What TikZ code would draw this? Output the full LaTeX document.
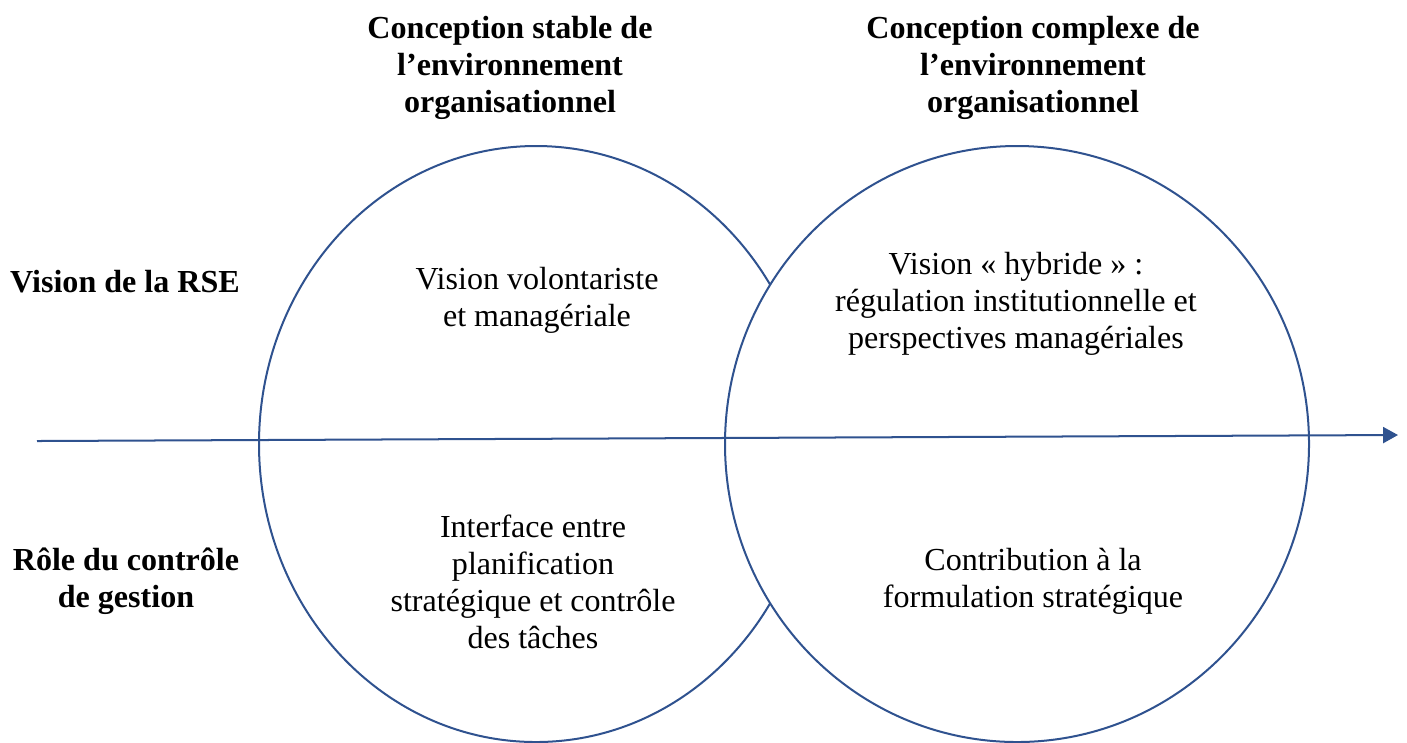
\documentclass[tikz,border=0pt]{standalone}
\usepackage{fontspec}
\setmainfont{Liberation Serif}
\usetikzlibrary{arrows.meta}
\definecolor{bleu}{RGB}{47,82,143}

\begin{document}
\begin{tikzpicture}[x=0.01315cm,y=-0.01315cm,
        texte/.style={align=center,inner sep=0pt,font=\fontsize{12}{13.8}\selectfont},
        titre/.style={texte,font=\fontsize{12}{13.8}\selectfont\bfseries},
        bord/.style={draw=bleu,line width=0.75pt}]
        % \draw[help lines,step=100] (0,0) grid (1407,742);
        \useasboundingbox (0,0) rectangle (1407,742);

        % the right one is filled and hides the left one's arc
        \draw[bord] (536,444) ellipse [x radius=277, y radius=298];
        \draw[bord,fill=white] (1017,444) ellipse [x radius=292, y radius=298];

        \coordinate (debut) at (37,441);
        \coordinate (fin) at (1398,435);
        \draw[bord,-{Triangle[length=5.6pt,width=6pt]}] (debut) -- (fin);

        \node[titre] at (510,68) (stable) {Conception stable de\\l’environnement\\organisationnel};
        \node[titre] at (1033,68) (complexe) {Conception complexe de\\l’environnement\\organisationnel};

        \node[titre] at (125,282) (rse) {Vision de la RSE};
        \node[titre] at (126,581) (role) {Rôle du contrôle\\de gestion};

        \node[texte] at (537,300) (volont) {Vision volontariste\\et managériale};
        \node[texte] at (1016,304) (hybride) {Vision « hybride » :\\régulation institutionnelle et\\perspectives managériales};
        \node[texte] at (533,582) (interface) {Interface entre\\planification\\stratégique et contrôle\\des tâches};
        \node[texte] at (1033,581) (contrib) {Contribution à la\\formulation stratégique};
    \end{tikzpicture}
\end{document}
